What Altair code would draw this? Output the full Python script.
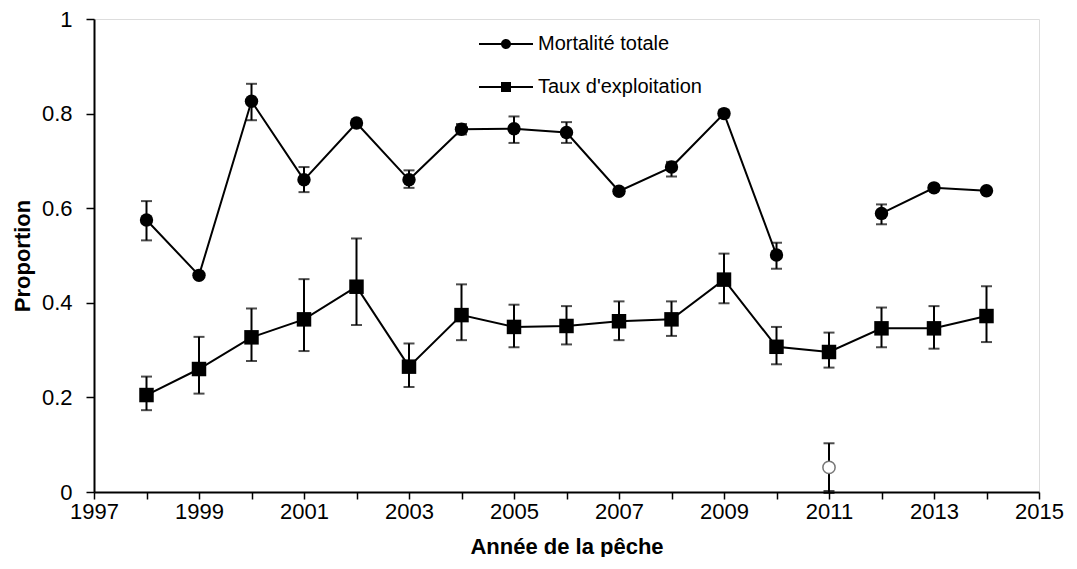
import altair as alt
import pandas as pd

years = list(range(1998, 2015))
mort = [0.575, 0.458, 0.826, 0.660, 0.780, 0.660, 0.767, 0.768, 0.760, 0.636, 0.687, 0.800, 0.501, None, 0.589, 0.643, 0.637]
mort_lo = [0.532, None, 0.786, 0.634, None, 0.643, 0.756, 0.738, 0.738, 0.630, 0.667, 0.792, 0.472, None, 0.566, 0.637, None]
mort_hi = [0.615, None, 0.863, 0.687, None, 0.680, 0.778, 0.794, 0.782, 0.642, 0.698, 0.808, 0.527, None, 0.608, 0.649, None]
expl = [0.205, 0.260, 0.327, 0.365, 0.434, 0.265, 0.374, 0.349, 0.351, 0.361, 0.365, 0.449, 0.307, 0.296, 0.346, 0.346, 0.372]
expl_lo = [0.173, 0.208, 0.277, 0.298, 0.353, 0.222, 0.321, 0.306, 0.312, 0.321, 0.330, 0.399, 0.270, 0.263, 0.306, 0.303, 0.317]
expl_hi = [0.244, 0.328, 0.388, 0.450, 0.536, 0.314, 0.439, 0.396, 0.393, 0.403, 0.403, 0.504, 0.349, 0.337, 0.390, 0.393, 0.435]

open_year = [2011]
open_val = [0.052]
open_lo = [0.0]
open_hi = [0.103]

series_names = ["Mortalité totale", "Taux d'exploitation"]

rows = []
for i, yr in enumerate(years):
    rows.append({"year": yr, "series": series_names[0], "v": mort[i], "lo": mort_lo[i], "hi": mort_hi[i],
                 "seg": "a" if yr < 2011 else "b"})
    rows.append({"year": yr, "series": series_names[1], "v": expl[i], "lo": expl_lo[i], "hi": expl_hi[i],
                 "seg": "a"})
df = pd.DataFrame(rows)
df_open = pd.DataFrame({"year": open_year, "v": open_val, "lo": open_lo, "hi": open_hi})

FONT = "Liberation Sans"

x_enc = alt.X("year:Q", scale=alt.Scale(domain=[1997, 2015], nice=False, zero=False),
              axis=alt.Axis(values=list(range(1997, 2016)), format="d",
                            labelExpr="datum.value % 2 == 1 ? datum.label : ''",
                            title="Année de la pêche", grid=False, tickSize=7, tickWidth=1.5,
                            domainWidth=2, domainColor="black", tickColor="black",
                            labelFontSize=22, labelPadding=2, labelFlush=False, labelOverlap=False,
                            labelColor="black", labelFont=FONT,
                            titleFontSize=22, titleFont=FONT, titleFontWeight="bold",
                            titleColor="black", titlePadding=14))
y_axis = alt.Axis(values=[0, 0.2, 0.4, 0.6, 0.8, 1.0], format="~g", title="Proportion", grid=False,
                  tickSize=8, tickWidth=1.5, domainWidth=2, domainColor="black", tickColor="black",
                  labelFontSize=22, labelPadding=14, labelColor="black", labelFont=FONT,
                  titleFontSize=22, titleFont=FONT, titleFontWeight="bold", titleColor="black",
                  titlePadding=7)
y_scale = alt.Scale(domain=[0, 1], nice=False)

base = alt.Chart(df)

lines = base.mark_line(color="black", strokeWidth=2).encode(
    x=x_enc, y=alt.Y("v:Q", scale=y_scale, axis=y_axis),
    detail=["series:N", "seg:N"]
).transform_filter("isValid(datum.v)")

err = base.transform_filter("isValid(datum.lo)")
bars = err.mark_rule(color="black", strokeWidth=2).encode(x="year:Q", y="lo:Q", y2="hi:Q")
cap_lo = err.mark_tick(color="black", orient="horizontal", size=11, thickness=2).encode(x="year:Q", y="lo:Q")
cap_hi = err.mark_tick(color="black", orient="horizontal", size=11, thickness=2).encode(x="year:Q", y="hi:Q")

circles = base.transform_filter(alt.datum.series == series_names[0]).transform_filter("isValid(datum.v)").mark_point(
    shape="circle", filled=True, color="black", size=180, opacity=1).encode(x="year:Q", y="v:Q")
squares = base.transform_filter(alt.datum.series == series_names[1]).mark_point(
    shape="square", filled=True, color="black", size=210, opacity=1).encode(x="year:Q", y="v:Q")

ob = alt.Chart(df_open)
open_bar = ob.mark_rule(color="black", strokeWidth=2).encode(x="year:Q", y="lo:Q", y2="hi:Q")
open_cap_hi = ob.mark_tick(color="black", orient="horizontal", size=11, thickness=2).encode(x="year:Q", y="hi:Q")
open_cap_lo = ob.mark_tick(color="black", orient="horizontal", size=11, thickness=4).encode(x="year:Q", y="lo:Q")
open_pt = ob.mark_point(shape="circle", filled=True, fill="white", stroke="#777777", strokeWidth=1.5,
                        size=150, opacity=1).encode(x="year:Q", y="v:Q")

circ_path = ("M-5.4,-0.2L5.4,-0.2L5.4,0.2L-5.4,0.2Z"
             "M1,0A1,1 0 1,1 -1,0A1,1 0 1,1 1,0Z")
sq_path = ("M-5.4,-0.2L5.4,-0.2L5.4,0.2L-5.4,0.2Z"
           "M-1,-1L1,-1L1,1L-1,1Z")

legend_layer = base.mark_point(filled=True, color="black", opacity=0).encode(
    x="year:Q", y="v:Q",
    shape=alt.Shape("series:N",
                    scale=alt.Scale(domain=series_names, range=[circ_path, sq_path]),
                    legend=alt.Legend(title=None, orient="none", legendX=402, legendY=15,
                                      symbolSize=100, symbolOpacity=1, symbolFillColor="black",
                                      symbolStrokeWidth=0, labelFontSize=20, labelFont=FONT,
                                      labelColor="black", labelOffset=22, rowPadding=23,
                                      labelLimit=0, direction="vertical"))
).transform_filter("isValid(datum.v)")

chart = alt.layer(lines, bars, cap_lo, cap_hi, open_bar, open_cap_hi, open_cap_lo,
                  circles, squares, open_pt, legend_layer).properties(
    width=945, height=473,
    padding={"left": 3, "top": 0, "right": 5, "bottom": 0}
).configure_view(stroke="black", strokeWidth=2).configure(background="white")

chart.save("out.html", embed_options={"renderer": "svg", "actions": False})
